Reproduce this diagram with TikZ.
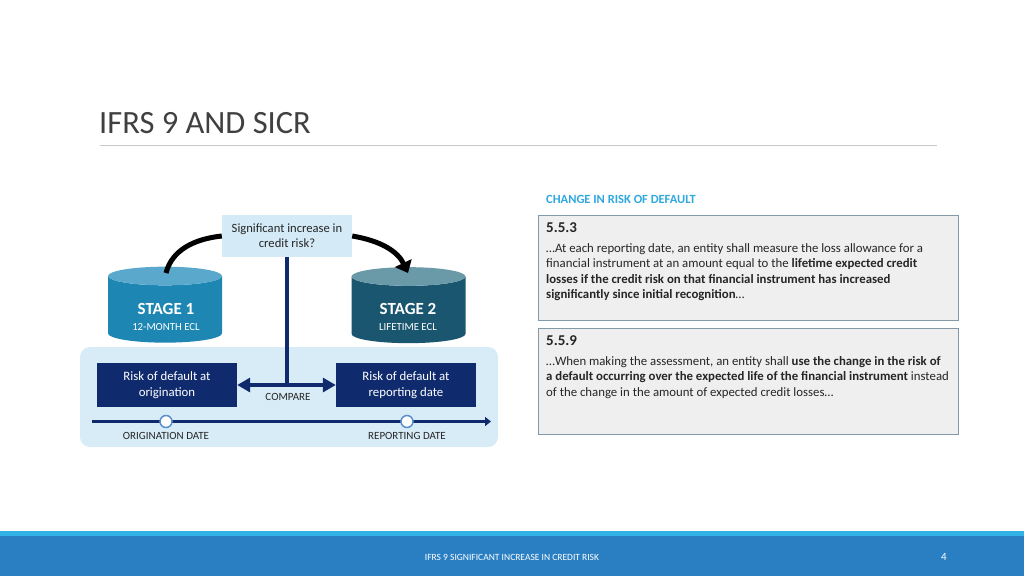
\documentclass[tikz,border=0pt]{standalone}
\usepackage{fontspec}
\setmainfont{Carlito}
\usepackage{tikz}
\usetikzlibrary{positioning}
\usetikzlibrary{shapes.geometric}
\usetikzlibrary{arrows.meta}

\definecolor{titlegray}{HTML}{404040}
\definecolor{rulegray}{HTML}{C8C8C8}
\definecolor{skyblue}{HTML}{2FA8E0}
\definecolor{notefill}{HTML}{EFEFEF}
\definecolor{noteline}{HTML}{8499A8}
\definecolor{panelblue}{HTML}{D8ECF8}
\definecolor{qblue}{HTML}{D4EAF6}
\definecolor{navy}{HTML}{0F2B6E}
\definecolor{stageA}{HTML}{1E86B2}
\definecolor{stageAtop}{HTML}{5AA8CC}
\definecolor{stageB}{HTML}{1A5670}
\definecolor{stageBtop}{HTML}{6A9AA8}
\definecolor{footlight}{HTML}{31B3E8}
\definecolor{footmain}{HTML}{2A7FC3}
\definecolor{dotline}{HTML}{5B8FCB}
\definecolor{bodygray}{HTML}{262626}

\begin{document}
\begin{tikzpicture}[x=1pt, y=-1pt,
    qbox/.style={fill=qblue, minimum width=130, minimum height=42, align=center,
      font=\fontsize{12.6}{15}\selectfont, text=bodygray},
    stagecyl/.style={cylinder, shape border rotate=90, aspect=2.8, draw=none,
      cylinder uses custom fill, minimum width=114, minimum height=76},
    navybox/.style={fill=navy, text=white, minimum width=140, minimum height=44,
      align=center, font=\fontsize{12.8}{15.5}\selectfont},
    smalllabel/.style={font=\fontsize{11}{12}\selectfont, text=bodygray},
    notebox/.style={fill=notefill, draw=noteline, line width=1pt},
    notehead/.style={anchor=west, inner sep=0, font=\bfseries\fontsize{15}{17}\selectfont, text=bodygray},
    notetext/.style={anchor=north west, inner sep=0, align=left, text=bodygray,
      font=\fontsize{12.8}{15.5}\selectfont},
    datedot/.style={circle, fill=white, draw=dotline, line width=1.5pt, minimum size=12, inner sep=0}]
              \useasboundingbox (0,0) rectangle (1024,576);
              % Titulo
              \node[anchor=west, inner sep=0, text=titlegray, font=\fontsize{32.5}{36}\selectfont] (title) at (99,123) {IFRS 9 AND SICR};
              \draw[rulegray, line width=1pt] (100,145) -- (937,145);

              % Panel
              \fill[panelblue, rounded corners=10] (80,347) rectangle (498,447);

              % Nodos
              \node[qbox] (q) at (287,236) {Significant increase in\\credit risk?};
              \node[stagecyl, cylinder body fill=stageA, cylinder end fill=stageAtop] (s1) at (165,311) {};
              \node[stagecyl, cylinder body fill=stageB, cylinder end fill=stageBtop] (s2) at (408.5,311.5) {};
              \node[text=white, font=\bfseries\fontsize{17}{19}\selectfont] (s1name) at (166,309) {STAGE 1};
              \node[text=white, font=\fontsize{10.8}{12}\selectfont] (s1sub) at (166,327) {12-MONTH ECL};
              \node[text=white, font=\bfseries\fontsize{17}{19}\selectfont] (s2name) at (408,309) {STAGE 2};
              \node[text=white, font=\fontsize{10.8}{12}\selectfont] (s2sub) at (408,327) {LIFETIME ECL};
              \node[navybox] (orig) at (167,385) {Risk of default at\\origination};
              \node[navybox] (rep) at (406,385) {Risk of default at\\reporting date};
              \node[smalllabel] (cmp) at (288,397) {COMPARE};
              \coordinate (tl0) at (92,421.5);
              \coordinate (tl1) at (491,421.5);
              \coordinate (mid) at (287,385);
              \coordinate (s1in) at (166,273);
              \coordinate (s2in) at (408,273);

              % Aristas
              \draw[black, line width=5pt] (q.west) .. controls (194,239) and (172,250) .. (s1in);
              \draw[black, line width=5pt, -{Triangle[width=18pt,length=11pt]}] (q.east) .. controls (382,241) and (398,252) .. (s2in);
              \draw[navy, line width=4pt] (q.south) -- (mid);
              \draw[navy, line width=4pt, {Triangle[width=14pt,length=13pt]}-{Triangle[width=14pt,length=13pt]}] (orig.east) -- (rep.west);
              \draw[navy, line width=3.5pt, -{Triangle[width=9pt,length=6pt]}] (tl0) -- (tl1);
              \node[datedot] (od) at (166,421.5) {};
              \node[datedot] (rd) at (407,421.5) {};
              \node[smalllabel, below=1pt of od] (odl) {ORIGINATION DATE};
              \node[smalllabel, below=1pt of rd] (rdl) {REPORTING DATE};

              % Notas
              \node[anchor=west, inner sep=0, text=skyblue, font=\bfseries\fontsize{12.5}{14}\selectfont] (ch) at (546,199) {CHANGE IN RISK OF DEFAULT};
              \draw[notebox] (538,215) rectangle (958,320);
              \draw[notebox] (538,328) rectangle (958,434);
              \node[notehead] (h1) at (546,228) {5.5.3};
              \node[notetext] (t1) at (546,243) {…At each reporting date, an entity shall measure the loss allowance for a\\
                financial instrument at an amount equal to the \textbf{lifetime expected credit}\\
                \textbf{losses if the credit risk on that financial instrument has increased}\\
                \textbf{significantly since initial recognition}…};
              \node[notehead] (h2) at (546,341) {5.5.9};
              \node[notetext] (t2) at (546,356) {…When making the assessment, an entity shall \textbf{use the change in the risk of}\\
                \textbf{a default occurring over the expected life of the financial instrument} instead\\
                of the change in the amount of expected credit losses…};

              % Pie
              \fill[footlight] (0,531) rectangle (1024,537);
              \fill[footmain] (0,536) rectangle (1024,576);
              \node[text=white, font=\fontsize{9.5}{11}\selectfont] (foot) at (512,557) {IFRS 9 SIGNIFICANT INCREASE IN CREDIT RISK};
              \node[text=white, font=\fontsize{11}{12}\selectfont] (page) at (944,557) {4};
            \end{tikzpicture}
\end{document}
